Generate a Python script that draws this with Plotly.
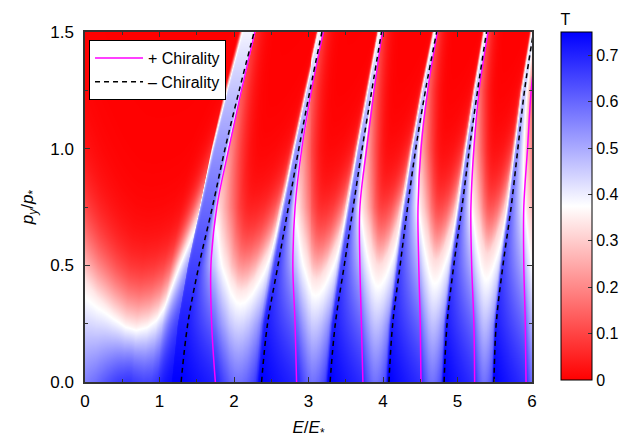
import numpy as np
import plotly.graph_objects as go

# ---------------- data ----------------
# p_y / p_* levels at which the resonance lines were read
PY_LEVELS = [0.0, 0.25, 0.5, 0.75, 1.0, 1.25, 1.5]

# "- Chirality" (dashed black) lines: E/E_* at each p_y level
MINUS_1 = [1.29, 1.38, 1.53, 1.71, 1.88, 2.07, 2.27]
MINUS_2 = [2.37, 2.45, 2.59, 2.73, 2.87, 3.02, 3.18]
MINUS_3 = [3.29, 3.36, 3.48, 3.60, 3.72, 3.85, 3.98]
MINUS_4 = [4.08, 4.13, 4.23, 4.33, 4.44, 4.57, 4.72]
MINUS_5 = [4.82, 4.86, 4.95, 5.06, 5.16, 5.27, 5.39]
MINUS_6 = [5.49, 5.52, 5.61, 5.72, 5.81, 5.90, 6.02]

# "+ Chirality" (magenta) lines
PLUS_1 = [1.75, 1.70, 1.69, 1.77, 1.93, 2.10, 2.28]
PLUS_2 = [2.84, 2.82, 2.79, 2.82, 2.91, 3.04, 3.20]
PLUS_3 = [3.73, 3.71, 3.69, 3.69, 3.78, 3.88, 3.99]
PLUS_4 = [4.51, 4.50, 4.48, 4.47, 4.51, 4.60, 4.73]
PLUS_5 = [5.23, 5.22, 5.19, 5.18, 5.22, 5.29, 5.41]
PLUS_6 = [5.92, 5.91, 5.89, 5.89, 5.94, 5.99, 6.08]

MINUS_LINES = [MINUS_1, MINUS_2, MINUS_3, MINUS_4, MINUS_5, MINUS_6]
PLUS_LINES = [PLUS_1, PLUS_2, PLUS_3, PLUS_4, PLUS_5, PLUS_6]

# low-transmission lobes: p_y of the white (T~0.375) contour bottom
LOBE_PMIN = [0.235, 0.39, 0.44, 0.50, 0.52, 0.55, 0.57]
# shape of the white contour across the first lobe (relative position u -> height above bottom)
LOBE0_U = [0.0, 0.06, 0.15, 0.30, 0.42, 0.52, 0.62, 0.70, 0.755, 0.79, 0.85, 0.898, 0.905, 0.919, 0.95, 1.0]
LOBE0_H = [0.25, 0.19, 0.13, 0.06, 0.015, 0.0, 0.015, 0.05, 0.11, 0.20, 0.36, 0.50, 0.83, 1.26, 3.0, 5.0]
# shape of the white contour across the other lobes
LOBE_U = [0.0, 0.05, 0.10, 0.17, 0.30, 0.40, 0.47, 0.55, 0.65, 0.72, 0.80, 0.85, 0.89, 0.92, 0.95, 1.0]
LOBE_H = [0.42, 0.36, 0.27, 0.18, 0.06, 0.01, 0.0, 0.01, 0.05, 0.10, 0.17, 0.25, 0.45, 0.9, 2.0, 5.0]
LOBE0_LEFT = -0.07
T_MAX = 0.75

X_TICKS = [0, 1, 2, 3, 4, 5, 6]
Y_TICKS = [0.0, 0.5, 1.0, 1.5]
Y_TICK_TEXT = ["0.0", "0.5", "1.0", "1.5"]
CB_TICKS = [0, 0.1, 0.2, 0.3, 0.4, 0.5, 0.6, 0.7]
CB_TICK_TEXT = ["0", "0.1", "0.2", "0.3", "0.4", "0.5", "0.6", "0.7"]

# ---------------- transmission map built from the read features ----------------
E_GRID = np.linspace(0, 6, 449)
PY_GRID = np.linspace(0, 1.5, 351)


def lobe_red(n, u, py):
    u = np.asarray(u, dtype=float)
    if n == 0:
        pm = LOBE_PMIN[0]
        h = np.interp(u, LOBE0_U, LOBE0_H)
        wb = 0.11 + 0.35 * (np.clip(0.5 - u, 0, None) / 0.5) ** 2 + 0.1 * (np.clip(u - 0.5, 0, None) / 0.5)
        wa = 0.13 + 0.08 * (np.clip(0.47 - u, 0, None) / 0.47) ** 2
    else:
        pm = LOBE_PMIN[n]
        h = np.interp(u, LOBE_U, LOBE_H)
        wb = 0.8 * pm + 0 * u
        wa = 0.15 + 0.27 * (np.clip(0.47 - u, 0, None) / 0.47) ** 2
    d = py - (pm + h)
    w = np.where(d > 0, wa, wb)
    return 1.0 / (1.0 + np.exp(-d / w))


Z = np.zeros((len(PY_GRID), len(E_GRID)))
for j, py in enumerate(PY_GRID):
    D = [np.interp(py, PY_LEVELS, l) for l in MINUS_LINES]
    M = [np.interp(py, PY_LEVELS, l) for l in PLUS_LINES]
    D7 = D[5] + 0.95 * (D[5] - D[4])
    left = [LOBE0_LEFT] + M
    right = D + [D7]
    F = np.zeros_like(E_GRID)
    for n in range(7):
        m = (E_GRID >= left[n]) & (E_GRID < right[n])
        u = (E_GRID[m] - left[n]) / (right[n] - left[n])
        F[m] = lobe_red(n, u, py)
    for n in range(1, 7):
        a, b = D[n - 1], M[n - 1]
        m = (E_GRID >= a) & (E_GRID < b)
        v = (E_GRID[m] - a) / max(b - a, 1e-6)
        F[m] = (1 - v) * lobe_red(n - 1, 1.0, py) + v * lobe_red(n, 0.0, py)
    tpeak = T_MAX - 0.22 * py ** 1.2
    Z[j] = tpeak * (1 - F)
Z = np.round(Z, 3)

# ---------------- figure ----------------
FONT = "Liberation Sans, Arial, Helvetica, sans-serif"
fig = go.Figure()
fig.add_trace(go.Heatmap(
    x=E_GRID, y=PY_GRID, z=Z, zmin=0, zmax=T_MAX, zsmooth="best",
    colorscale=[[0, "rgb(255,0,0)"], [0.5, "rgb(255,255,255)"], [1, "rgb(0,0,255)"]],
    hoverinfo="skip", showlegend=False,
    colorbar=dict(
        title=dict(text="T", side="top", font=dict(size=16, family=FONT, color="black")),
        x=1.065, xanchor="left", xref="paper", xpad=0, ypad=0,
        y=1.0 + 22 / 350, yanchor="top", len=370, lenmode="pixels",
        thickness=31, outlinewidth=1, outlinecolor="black",
        tickvals=CB_TICKS, ticktext=CB_TICK_TEXT, ticks="inside", ticklen=4,
        tickcolor="#333", tickfont=dict(size=16, family=FONT, color="black"),
    ),
))

for k, line in enumerate(PLUS_LINES):
    fig.add_trace(go.Scatter(
        x=line, y=PY_LEVELS, mode="lines", line=dict(color="#ff00ff", width=1.5, shape="spline"),
        name="+ Chirality", legendgroup="plus", showlegend=(k == 0), hoverinfo="skip"))
for k, line in enumerate(MINUS_LINES):
    fig.add_trace(go.Scatter(
        x=line, y=PY_LEVELS, mode="lines",
        line=dict(color="black", width=1.5, dash="5px,4px", shape="spline"),
        name="\u2013 Chirality", legendgroup="minus", showlegend=(k == 0), hoverinfo="skip"))

axis_common = dict(
    showgrid=False, zeroline=False, showline=True, linecolor="#333", linewidth=1.5,
    mirror="allticks", ticks="inside", ticklen=5, tickcolor="#333", tickwidth=1,
    tickfont=dict(size=17, family=FONT, color="black"),
)
fig.update_xaxes(range=[0, 6], tickvals=X_TICKS,
                 minor=dict(dtick=0.5, ticks="inside", ticklen=3, tickcolor="#333"),
                 title=dict(text="<i>E</i>/<i>E</i><sub>*</sub>", standoff=11,
                            font=dict(size=17, family=FONT, color="black")),
                 ticklabelstandoff=3, **axis_common)
fig.update_yaxes(range=[0, 1.5], tickvals=Y_TICKS, ticktext=Y_TICK_TEXT,
                 minor=dict(dtick=0.25, ticks="inside", ticklen=3, tickcolor="#333"),
                 title=dict(text="<i>p<sub>y</sub></i>/<i>p</i><sub>*</sub>", standoff=12,
                            font=dict(size=17, family=FONT, color="black")),
                 ticklabelstandoff=6, **axis_common)

fig.update_layout(
    width=627, height=443,
    margin=dict(l=77, r=103, t=24, b=69, autoexpand=False),
    paper_bgcolor="white", plot_bgcolor="white",
    font=dict(family=FONT, color="black"),
    legend=dict(x=0.009, y=0.977, xanchor="left", yanchor="top",
                bgcolor="white", bordercolor="black", borderwidth=1,
                font=dict(size=16, family=FONT, color="black"), traceorder="normal",
                tracegroupgap=0, itemwidth=48),
)

fig.write_html("out.html")
